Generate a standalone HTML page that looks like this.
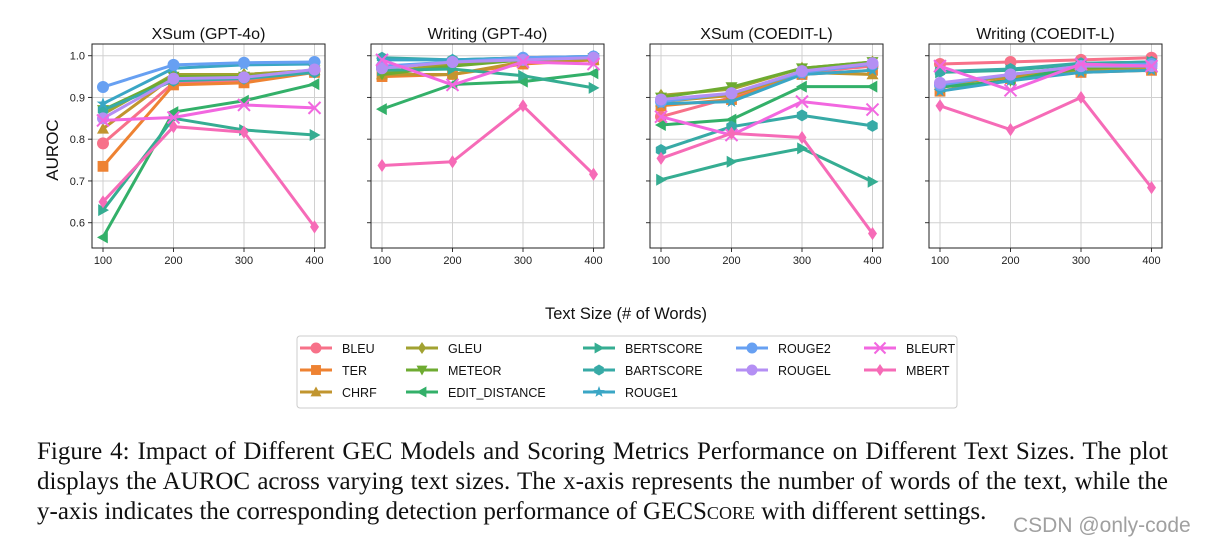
<!DOCTYPE html>
<html><head><meta charset="utf-8">
<style>
body{margin:0;background:#fff;width:1206px;height:546px;overflow:hidden;font-family:"Liberation Sans","DejaVu Sans",sans-serif;}
svg{position:absolute;left:0;top:0}
.cap{position:absolute;left:37px;top:437px;width:1131px;font-family:"Liberation Serif",serif;font-size:25px;line-height:30px;color:#111}
.cap .j{text-align:justify;text-align-last:justify;white-space:nowrap}
.wm{position:absolute;left:1013px;top:514px;font-size:21px;color:#a0a0a0}
</style></head><body>
<svg id="chart" width="1206" height="430"></svg>
<div class="cap"><div class="j">Figure 4: Impact of Different GEC Models and Scoring Metrics Performance on Different Text Sizes. The plot</div><div class="j">displays the AUROC across varying text sizes. The x-axis represents the number of words of the text, while the</div><div style="white-space:nowrap">y-axis indicates the corresponding detection performance of GEC<span style="font-variant:small-caps">Score</span> with different settings.</div></div>
<div class="wm">CSDN @only-code</div>
<script>
const panels=["XSum (GPT-4o)","Writing (GPT-4o)","XSum (COEDIT-L)","Writing (COEDIT-L)"];
const xVals=[100,200,300,400];
const yTicks=[0.6,0.7,0.8,0.9,1.0];
const metrics=["BLEU","TER","CHRF","GLEU","METEOR","EDIT_DISTANCE","BERTSCORE","BARTSCORE","ROUGE1","ROUGE2","ROUGEL","BLEURT","MBERT"];
const colors=["#f77189","#ee8232","#c1952f","#a1a231","#6eab31","#33b069","#35ad92","#37aaa6","#3aa6c5","#67a0f2","#b48ff4","#f267e0","#f66bb7"];
const markers=["circle","square","triUp","diamond","triDown","triLeft","triRight","hexagon","star","circle","circle","x","diamond"];
const p1=[[.79,.935,.94,.965],[.735,.93,.935,.96],[.825,.95,.955,.965],[.86,.955,.955,.965],[.87,.95,.95,.965],[.565,.865,.892,.932],[.63,.85,.822,.81],[.87,.94,.945,.96],[.885,.97,.978,.98],[.925,.978,.983,.985],[.85,.945,.948,.967],[.845,.852,.882,.875],[.65,.83,.817,.59]];
const p2=[[.97,.985,.99,.995],[.95,.955,.98,.99],[.955,.955,.985,.99],[.96,.98,.99,.995],[.955,.975,.99,.995],[.872,.931,.938,.958],[.965,.968,.952,.923],[.995,.99,.995,.998],[.99,.99,.995,.998],[.975,.985,.995,.998],[.97,.985,.99,.995],[.99,.93,.985,.98],[.737,.746,.88,.716]];
const p3=[[.854,.9,.96,.975],[.88,.895,.955,.965],[.89,.905,.96,.955],[.905,.92,.97,.985],[.9,.925,.97,.985],[.834,.847,.926,.926],[.703,.746,.778,.698],[.774,.83,.857,.832],[.885,.89,.955,.965],[.89,.91,.96,.98],[.895,.91,.963,.982],[.854,.81,.89,.871],[.754,.814,.804,.574]];
const p4=[[.98,.985,.99,.995],[.915,.945,.96,.965],[.93,.95,.965,.97],[.93,.955,.97,.975],[.925,.94,.97,.975],[.925,.94,.975,.98],[.96,.965,.98,.985],[.962,.968,.982,.985],[.915,.94,.96,.965],[.93,.955,.975,.98],[.935,.955,.975,.975],[.975,.917,.98,.975],[.88,.823,.9,.684]];
const data=[p1,p2,p3,p4];
const NS="http://www.w3.org/2000/svg";
const svg=document.getElementById('chart');
function mk(tag,attrs,parent){const e=document.createElementNS(NS,tag);for(const k in attrs)e.setAttribute(k,attrs[k]);(parent||svg).appendChild(e);return e;}
const lefts=[92,371,650,929],W=233,plotTop=44,plotBot=248;
function xs(pi,v){return lefts[pi]+11+(v-100)/300*211.5;}
function ys(v){return 55.7+(1.0-v)*417.5;}
function marker(g,type,cx,cy,c,r){
 r=r||6;
 const poly=(arr)=>mk('polygon',{points:arr.map(p=>p.join(',')).join(' '),fill:c},g);
 if(type==="circle")return mk('circle',{cx,cy,r,fill:c},g);
 if(type==="square")return mk('rect',{x:cx-r*.9,y:cy-r*.9,width:r*1.8,height:r*1.8,fill:c},g);
 if(type==="triUp")return poly([[cx,cy-r],[cx-r,cy+r*.8],[cx+r,cy+r*.8]]);
 if(type==="triDown")return poly([[cx,cy+r],[cx-r,cy-r*.8],[cx+r,cy-r*.8]]);
 if(type==="triLeft")return poly([[cx-r,cy],[cx+r*.8,cy-r],[cx+r*.8,cy+r]]);
 if(type==="triRight")return poly([[cx+r,cy],[cx-r*.8,cy-r],[cx-r*.8,cy+r]]);
 if(type==="diamond")return poly([[cx,cy-r*1.1],[cx+r*.75,cy],[cx,cy+r*1.1],[cx-r*.75,cy]]);
 if(type==="hexagon"){const a=[];for(let i=0;i<6;i++){const t=Math.PI/3*i+Math.PI/2;a.push([cx+r*Math.cos(t),cy+r*Math.sin(t)]);}return poly(a);}
 if(type==="star"){const a=[];for(let i=0;i<10;i++){const t=Math.PI/5*i-Math.PI/2;const rr=i%2?r*.45:r*1.1;a.push([cx+rr*Math.cos(t),cy+rr*Math.sin(t)]);}return poly(a);}
 if(type==="x"){const gg=mk('g',{stroke:c,'stroke-width':2},g);mk('line',{x1:cx-r,y1:cy-r,x2:cx+r,y2:cy+r},gg);mk('line',{x1:cx-r,y1:cy+r,x2:cx+r,y2:cy-r},gg);return gg;}
}
panels.forEach((title,pi)=>{
 const g=mk('g',{});
 
 
 const L=lefts[pi];
 xVals.forEach(v=>{mk('line',{x1:xs(pi,v),x2:xs(pi,v),y1:plotTop,y2:plotBot,stroke:'#d0d0d0','stroke-width':1},g);
  mk('line',{x1:xs(pi,v),x2:xs(pi,v),y1:plotBot,y2:plotBot+4,stroke:'#333'},g);
  const t=mk('text',{x:xs(pi,v),y:plotBot+16,'text-anchor':'middle','font-size':11,fill:'#222'},g);t.textContent=v;
  
  });
 yTicks.forEach(v=>{mk('line',{x1:L,x2:L+W,y1:ys(v),y2:ys(v),stroke:'#d0d0d0','stroke-width':1},g);
  mk('line',{x1:L-4,x2:L,y1:ys(v),y2:ys(v),stroke:'#333'},g);
  if(pi===0){const t=mk('text',{x:L-7,y:ys(v)+4,'text-anchor':'end','font-size':11,fill:'#222'},g);t.textContent=v.toFixed(1);
  
  }});
 const tt=mk('text',{x:L+W/2,y:39,'text-anchor':'middle','font-size':16,fill:'#111'},g);tt.textContent=title;
 
 
 data[pi].forEach((series,si)=>{
  const sg=mk('g',{},g);
  
  
  mk('polyline',{points:series.map((v,i)=>xs(pi,xVals[i])+','+ys(v)).join(' '),fill:'none',stroke:colors[si],'stroke-width':3,'stroke-linejoin':'round'},sg);
  series.forEach((v,i)=>marker(sg,markers[si],xs(pi,xVals[i]),ys(v),colors[si],6));
 });
 mk('rect',{x:L,y:plotTop,width:W,height:plotBot-plotTop,fill:'none',stroke:'#222','stroke-width':1},g);
});
const yl=mk('text',{x:58,y:150,'text-anchor':'middle','font-size':17,fill:'#111',transform:'rotate(-90 58 150)'});yl.textContent='AUROC';


const xl=mk('text',{x:626,y:319,'text-anchor':'middle','font-size':16.5,fill:'#111'});xl.textContent='Text Size (# of Words)';


const lg=mk('g',{});


mk('rect',{x:297,y:336,width:660,height:72,rx:3,fill:'#fff',stroke:'#ccc'},lg);
const colX=[300,406,583,736,864],rowY=[348,370,392];
metrics.forEach((m,i)=>{
 const c=i<3?0:i<6?1:i<9?2:i<11?3:4;const r=i<9?i%3:(i-9)%2;
 const eg=mk('g',{},lg);
 
 
 const x=colX[c],y=rowY[r];
 mk('line',{x1:x,x2:x+32,y1:y,y2:y,stroke:colors[i],'stroke-width':3},eg);
 marker(eg,markers[i],x+16,y,colors[i],5.5);
 const t=mk('text',{x:x+42,y:y+5,'font-size':12.5,fill:'#111'},eg);t.textContent=m;
});
</script>
</body></html>
